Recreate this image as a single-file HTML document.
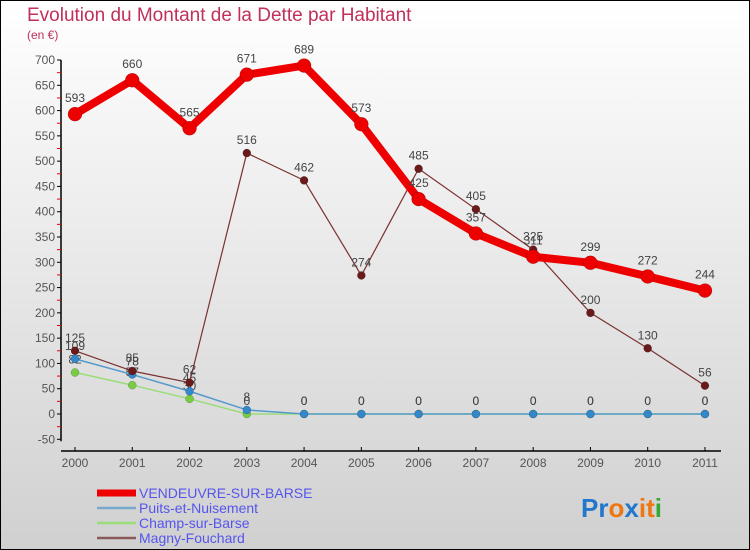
<!DOCTYPE html>
<html><head><meta charset="utf-8"><style>
html,body{margin:0;padding:0}
body{width:750px;height:550px;overflow:hidden;font-family:"Liberation Sans",sans-serif}
#wrap{position:relative;width:748px;height:548px;border:1px solid #000;background:linear-gradient(#ffffff,#d0d0d0)}
</style></head><body>
<div id="wrap">
<svg id="chart" width="748" height="548" style="position:absolute;left:0;top:0"></svg>
</div>
<script>
const years=["2000","2001","2002","2003","2004","2005","2006","2007","2008","2009","2010","2011"];
const vendeuvre=[593,660,565,671,689,573,425,357,311,299,272,244];
const puits=[109,78,45,8,0,0,0,0,0,0,0,0];
const champ=[82,57,30,0,0,0,0,0,0,0,0,0];
const magny=[125,85,62,516,462,274,485,405,325,200,130,56];
const yTicks=[-50,0,50,100,150,200,250,300,350,400,450,500,550,600,650,700];
const NS="http://www.w3.org/2000/svg";
const svg=document.getElementById('chart');
function X(i){return 74+i*57.27;}
function Y(v){return 413-v*0.5057;}
function mk(tag,attrs,parent){const e=document.createElementNS(NS,tag);for(const k in attrs)e.setAttribute(k,attrs[k]);(parent||svg).appendChild(e);return e;}
function txt(x,y,s,attrs){const t=mk('text',Object.assign({x:x,y:y,'font-size':12,fill:'#444','font-family':'Liberation Sans, sans-serif'},attrs||{}));t.textContent=s;return t;}
let t=txt(26,20,'Evolution du Montant de la Dette par Habitant',{'font-size':19,fill:'#c0305a'});

t=txt(26,38,'(en €)',{'font-size':12,fill:'#c0305a'});

let ax=mk('line',{x1:60,y1:Y(700),x2:60,y2:Y(-50)+2,stroke:'#000','stroke-width':1.5});

yTicks.forEach((v,i)=>{
 mk('line',{x1:56,y1:Y(v),x2:60,y2:Y(v),stroke:'#000'});
 if(i<yTicks.length-1){mk('line',{x1:56,y1:Y(v+25),x2:60,y2:Y(v+25),stroke:'#e00'});}
 const l=txt(54,Y(v)+4,String(v),{'text-anchor':'end',fill:'#555'});
 
});
let xa=mk('line',{x1:60,y1:450,x2:720,y2:450,stroke:'#000','stroke-width':1.5});

years.forEach((y,i)=>{
 mk('line',{x1:X(i),y1:446,x2:X(i),y2:450,stroke:'#000'});
 const l=txt(X(i),466,y,{'text-anchor':'middle',fill:'#555'});
 
});
function series(data,color,width,r,dot,name,labels){
 const g=mk('g',{});
 
 mk('polyline',{points:data.map((v,i)=>X(i)+','+Y(v)).join(' '),fill:'none',stroke:color,'stroke-width':width,'stroke-linejoin':'round'},g);
 data.forEach((v,i)=>{
  const c=mk('circle',{cx:X(i),cy:Y(v),r:r,fill:dot,stroke:'rgba(0,0,0,0.3)','stroke-width':0.5},g);
  
  if(labels){const l=txt(X(i),Y(v)-r-5,String(v),{'text-anchor':'middle',fill:'#444'});
  g.appendChild(l);}
 });
}
series(champ,'#99dd77',1.5,4,'#77cc44','champ-sur-barse',true);
series(puits,'#5599cc',1.5,4,'#3388cc','puits-et-nuisement',true);
series(magny,'#7a3030',1.2,4,'#6a1a1a','magny-fouchard',true);
series(vendeuvre,'#ee0000',8,7,'#ee0000','vendeuvre-sur-barse',true);
const legNames=['VENDEUVRE-SUR-BARSE','Puits-et-Nuisement','Champ-sur-Barse','Magny-Fouchard'];
const legCols=['#ee0000','#77aacc','#99dd77','#8a5a5a'];
const legW=[7,2.5,2.5,2.5];
legNames.forEach((n,i)=>{
 const g=mk('g',{});
 const yy=492+i*15;
 mk('line',{x1:96,y1:yy,x2:135,y2:yy,stroke:legCols[i],'stroke-width':legW[i]},g);
 const l=txt(138,yy+5,n,{'font-size':14,fill:'#5555ee'});g.appendChild(l);
});
const logo=txt(580,516,'',{'font-size':26,'font-weight':'bold'});

[['P','#2277cc'],['r','#2277cc'],['o','#ee7711'],['x','#2277cc'],['i','#ee7711'],['t','#ee7711'],['i','#33aa33']].forEach(([c,col])=>{const s=mk('tspan',{fill:col},logo);s.textContent=c;});
</script>
</body></html>
